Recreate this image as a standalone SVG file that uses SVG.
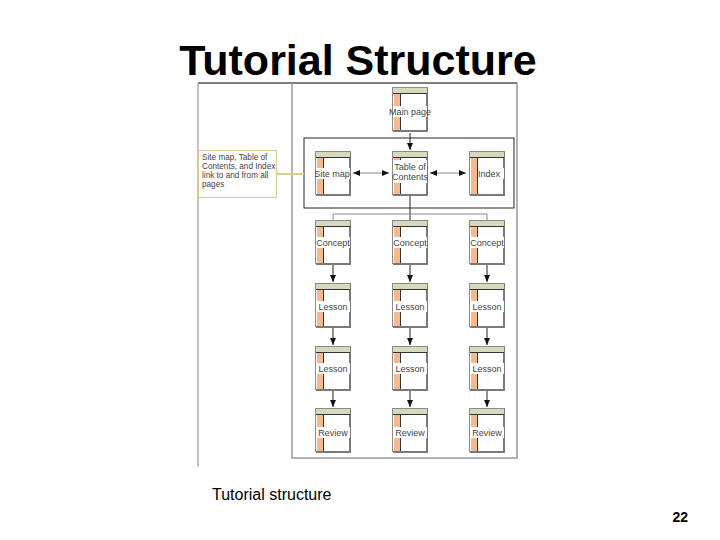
<svg xmlns="http://www.w3.org/2000/svg" width="720" height="540" viewBox="0 0 720 540">
<defs>
<style>
.frame{fill:none;stroke:#999;stroke-width:1.5}
.pg-bg{fill:#fff;stroke:#8a8a8a;stroke-width:1}
.pg-sh{fill:none;stroke:#7a7a7a;stroke-width:2}
.pg-hd{fill:#d6dabc}
.pg-ln{stroke:#333;stroke-width:1;fill:none}
.pg-col{fill:#f5b98c}
.lbl-bg{fill:#fff}
.lbl{font-family:"Liberation Sans",Arial,sans-serif;font-size:9px;fill:#444;text-anchor:middle}
.con{stroke:#222;stroke-width:1;fill:none}
.con-g{stroke:#888;stroke-width:1;fill:none}
.note{font-family:"Liberation Sans",Arial,sans-serif;font-size:8.2px;fill:#444}
</style>
<marker id="ah" viewBox="0 0 7 6" refX="7" refY="3" markerWidth="7" markerHeight="6" markerUnits="userSpaceOnUse" orient="auto-start-reverse">
<path d="M0,0 L7,3 L0,6 Z" fill="#111"/>
</marker>
<g id="page">
<rect class="pg-bg" x="0.5" y="0.5" width="35" height="43"/>
<path class="pg-sh" d="M35,1 V44 H1"/>
<rect class="pg-hd" x="1" y="1" width="34" height="5"/>
<line class="pg-ln" x1="1" y1="6.5" x2="35" y2="6.5"/>
<rect class="pg-col" x="2" y="7" width="6" height="36"/>
<line class="pg-ln" x1="8.5" y1="7" x2="8.5" y2="43"/>
</g>
</defs>
<rect width="720" height="540" fill="#fff"/>

<text x="358" y="75" font-family="'Liberation Sans',Arial,sans-serif" font-size="43" font-weight="bold" text-anchor="middle" fill="#000">Tutorial Structure</text>

<g id="figure-frame">
<line x1="198" y1="83" x2="517" y2="83" stroke="#555" stroke-width="1.5"/>
<line x1="198" y1="83" x2="198" y2="467" stroke="#888" stroke-width="1"/>
<path class="frame" d="M292,83 V458 H517 V83"/>
<rect x="304" y="138" width="210" height="70" fill="none" stroke="#222" stroke-width="1"/>
</g>

<g id="callout">
<line x1="277" y1="174" x2="304" y2="174" stroke="#d6cc94" stroke-width="2"/>
<rect x="198.5" y="150.5" width="78" height="47" fill="#fff" stroke="#d6cc94" stroke-width="1.2"/>
<text class="note" x="202" y="160">Site map, Table of</text>
<text class="note" x="202" y="169">Contents, and Index</text>
<text class="note" x="202" y="178">link to and from all</text>
<text class="note" x="202" y="187">pages</text>
</g>

<g id="connectors">
<line class="con" x1="410" y1="133" x2="410" y2="150" marker-end="url(#ah)"/>
<line class="con-g" x1="353" y1="173" x2="389" y2="173" marker-start="url(#ah)" marker-end="url(#ah)"/>
<line class="con-g" x1="430" y1="173" x2="466" y2="173" marker-start="url(#ah)" marker-end="url(#ah)"/>
<line class="con" x1="410" y1="195" x2="410" y2="220"/>
<path class="con-g" d="M333,220 V214 H487 V220"/>
<line class="con" x1="333" y1="265" x2="333" y2="282" marker-end="url(#ah)"/>
<line class="con" x1="410" y1="265" x2="410" y2="282" marker-end="url(#ah)"/>
<line class="con" x1="487" y1="265" x2="487" y2="282" marker-end="url(#ah)"/>
<line class="con" x1="333" y1="328" x2="333" y2="345" marker-end="url(#ah)"/>
<line class="con" x1="410" y1="328" x2="410" y2="345" marker-end="url(#ah)"/>
<line class="con" x1="487" y1="328" x2="487" y2="345" marker-end="url(#ah)"/>
<line class="con" x1="333" y1="391" x2="333" y2="407" marker-end="url(#ah)"/>
<line class="con" x1="410" y1="391" x2="410" y2="407" marker-end="url(#ah)"/>
<line class="con" x1="487" y1="391" x2="487" y2="407" marker-end="url(#ah)"/>
</g>

<g id="main-page" transform="translate(392,87)"><use href="#page"/><rect class="lbl-bg" x="1" y="19" width="34" height="11"/><text class="lbl" x="18" y="28">Main page</text></g>

<g id="site-map" transform="translate(315,151)"><use href="#page"/><rect class="lbl-bg" x="1" y="17" width="34" height="11"/><text class="lbl" x="17" y="26">Site map</text></g>
<g id="toc" transform="translate(392,151)"><use href="#page"/><rect class="lbl-bg" x="1" y="9" width="34" height="23"/><text class="lbl" x="18" y="19">Table of</text><text class="lbl" x="18" y="29">Contents</text></g>
<g id="index" transform="translate(469,151)"><use href="#page"/><rect class="lbl-bg" x="9" y="17" width="26" height="11"/><text class="lbl" x="20" y="26">Index</text></g>

<g id="concept-1" transform="translate(315,220)"><use href="#page"/><rect class="lbl-bg" x="1" y="17" width="34" height="11"/><text class="lbl" x="18" y="26">Concept</text></g>
<g id="concept-2" transform="translate(392,220)"><use href="#page"/><rect class="lbl-bg" x="1" y="17" width="34" height="11"/><text class="lbl" x="18" y="26">Concept</text></g>
<g id="concept-3" transform="translate(469,220)"><use href="#page"/><rect class="lbl-bg" x="1" y="17" width="34" height="11"/><text class="lbl" x="18" y="26">Concept</text></g>

<g id="lesson-1a" transform="translate(315,283)"><use href="#page"/><rect class="lbl-bg" x="1" y="18" width="34" height="11"/><text class="lbl" x="18" y="27">Lesson</text></g>
<g id="lesson-2a" transform="translate(392,283)"><use href="#page"/><rect class="lbl-bg" x="1" y="18" width="34" height="11"/><text class="lbl" x="18" y="27">Lesson</text></g>
<g id="lesson-3a" transform="translate(469,283)"><use href="#page"/><rect class="lbl-bg" x="1" y="18" width="34" height="11"/><text class="lbl" x="18" y="27">Lesson</text></g>

<g id="lesson-1b" transform="translate(315,346)"><use href="#page"/><rect class="lbl-bg" x="1" y="17" width="34" height="11"/><text class="lbl" x="18" y="26">Lesson</text></g>
<g id="lesson-2b" transform="translate(392,346)"><use href="#page"/><rect class="lbl-bg" x="1" y="17" width="34" height="11"/><text class="lbl" x="18" y="26">Lesson</text></g>
<g id="lesson-3b" transform="translate(469,346)"><use href="#page"/><rect class="lbl-bg" x="1" y="17" width="34" height="11"/><text class="lbl" x="18" y="26">Lesson</text></g>

<g id="review-1" transform="translate(315,408)"><use href="#page"/><rect class="lbl-bg" x="1" y="19" width="34" height="11"/><text class="lbl" x="18" y="28">Review</text></g>
<g id="review-2" transform="translate(392,408)"><use href="#page"/><rect class="lbl-bg" x="1" y="19" width="34" height="11"/><text class="lbl" x="18" y="28">Review</text></g>
<g id="review-3" transform="translate(469,408)"><use href="#page"/><rect class="lbl-bg" x="1" y="19" width="34" height="11"/><text class="lbl" x="18" y="28">Review</text></g>

<text x="212" y="500" font-family="'Liberation Sans',Arial,sans-serif" font-size="16" fill="#000">Tutorial structure</text>
<text x="688" y="522" font-family="'Liberation Sans',Arial,sans-serif" font-size="14" font-weight="bold" text-anchor="end" fill="#000">22</text>
</svg>
